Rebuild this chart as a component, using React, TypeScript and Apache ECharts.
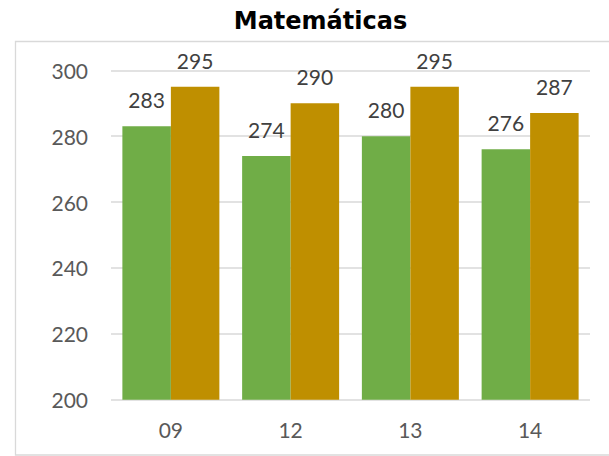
import { useRef, useEffect } from 'react';
import * as echarts from 'echarts';

const TITLE = 'Matemáticas';
const CATEGORIES = ['09', '12', '13', '14'];
const GREEN_VALUES = [283, 274, 280, 276];
const GOLD_VALUES = [295, 290, 295, 287];
const Y_MIN = 200;
const Y_MAX = 300;
const Y_STEP = 20;

const LABEL_FONT = "Lato, 'Noto Sans', sans-serif";

export default function App() {
  const chartRef = useRef<HTMLDivElement>(null);

  useEffect(() => {
    document.body.style.margin = '0';
    if (!chartRef.current) return;
    const chart = echarts.init(chartRef.current, undefined, { renderer: 'svg' });

    const option: echarts.EChartsOption = {
      animation: false,
      backgroundColor: '#ffffff',
      graphic: [
        {
          type: 'rect',
          shape: { x: 15.5, y: 41.5, width: 620, height: 413.5 },
          style: { fill: 'none', stroke: '#d9d9d9', lineWidth: 1.3 },
          z: -1,
        },
        {
          type: 'text',
          x: 320.5,
          y: 21,
          style: {
            text: TITLE,
            fill: '#000000',
            font: "bold 24px 'DejaVu Sans', sans-serif",
            textAlign: 'center',
            textVerticalAlign: 'middle',
          },
        },
      ],
      grid: { left: 111, right: 19, top: 70.3, bottom: 56.3 },
      xAxis: {
        type: 'category',
        data: CATEGORIES,
        axisLine: { show: false },
        axisTick: { show: false },
        axisLabel: {
          color: '#595959',
          fontFamily: LABEL_FONT,
          fontSize: 21,
          margin: 19,
        },
      },
      yAxis: {
        type: 'value',
        min: Y_MIN,
        max: Y_MAX,
        interval: Y_STEP,
        axisLine: { show: false },
        axisTick: { show: false },
        axisLabel: {
          color: '#595959',
          fontFamily: LABEL_FONT,
          fontSize: 21,
          margin: 23,
        },
        splitLine: { lineStyle: { color: '#d9d9d9', width: 1.5 } },
      },
      series: [
        {
          type: 'bar',
          data: GREEN_VALUES,
          barGap: '0%',
          barCategoryGap: '19%',
          itemStyle: { color: '#70ad47' },
          label: {
            show: true,
            position: 'top',
            distance: 16,
            color: '#404040',
            fontFamily: LABEL_FONT,
            fontSize: 21,
          },
        },
        {
          type: 'bar',
          data: GOLD_VALUES,
          barGap: '0%',
          barCategoryGap: '19%',
          itemStyle: { color: '#bf8f00' },
          label: {
            show: true,
            position: 'top',
            distance: 16,
            color: '#404040',
            fontFamily: LABEL_FONT,
            fontSize: 21,
          },
        },
      ],
    };

    chart.setOption(option);
    return () => {
      chart.dispose();
    };
  }, []);

  return <div ref={chartRef} style={{ width: 609, height: 456 }} />;
}
